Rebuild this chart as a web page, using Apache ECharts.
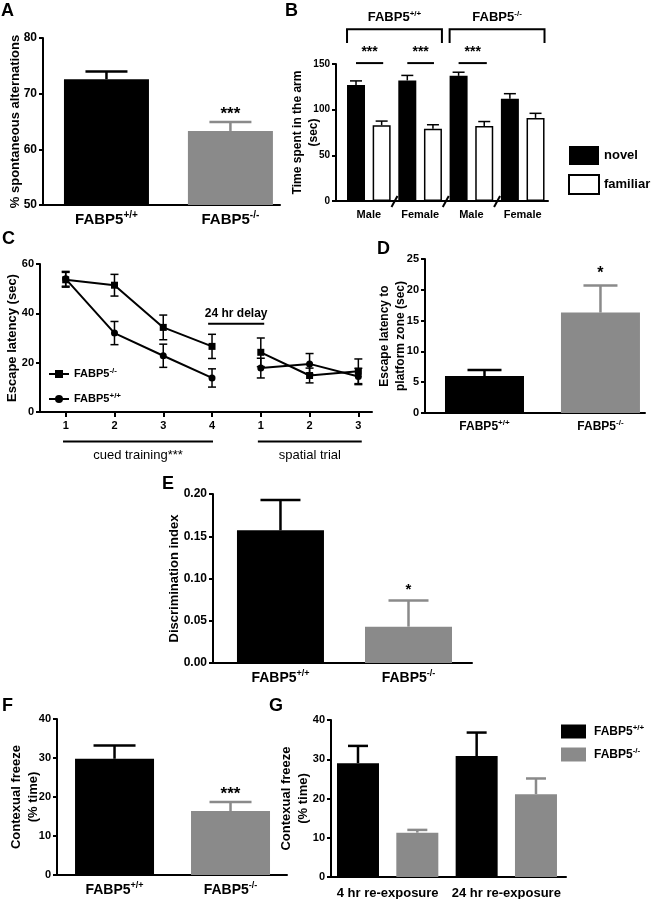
<!DOCTYPE html>
<html>
<head>
<meta charset="utf-8">
<script src="https://cdn.jsdelivr.net/npm/echarts@6.0.0/dist/echarts.min.js"></script>
<style>
html,body{margin:0;padding:0;background:#fff;}
#chart{width:652px;height:899px;}
</style>
</head>
<body>
<div id="chart"></div>
<script>
// ---------------- data ----------------
const genotypes = ['FABP5{s|+/+}', 'FABP5{s|-/-}'];
const genoX = [1, 2];
// A  spontaneous alternations
const aMean = [72.6, 63.3];
const aSem = [1.4, 1.6];
const aSig = ['', '***'];
// B  novel / familiar arm
const bGroups = ['Male', 'Female', 'Male', 'Female'];
const bNovelX = [1, 2, 3, 4];
const bFamiliarX = [1.5, 2.5, 3.5, 4.5];
const bLabelX = [1.25, 2.25, 3.25, 4.25];
const bNovel = [127, 132, 137, 112];
const bNovelSem = [4.5, 5.5, 4, 5.5];
const bFamiliar = [83, 79, 82, 91];
const bFamiliarSem = [4.5, 4.5, 5, 5];
// C  escape latency over trials
const cX = [1, 2, 3, 4, 5, 6, 7];
const cTickLabels = ['1', '2', '3', '4', '1', '2', '3'];
const cKO = [53.6, 51.4, 34.3, 26.6, 24.2, 14.8, 16.5];
const cKOSem = [3.0, 4.4, 5.0, 4.9, 5.8, 3.0, 5.0];
const cWT = [54.0, 32.0, 22.8, 13.8, 17.8, 19.5, 14.4];
const cWTSem = [3.0, 4.7, 4.7, 3.7, 4.0, 4.2, 3.3];
// D  escape latency to platform zone
const dMean = [6.0, 16.3];
const dSem = [1.0, 4.4];
const dSig = ['', '*'];
// E  discrimination index
const eMean = [0.157, 0.043];
const eSem = [0.036, 0.031];
const eSig = ['', '*'];
// F  contextual freeze
const fMean = [29.8, 16.4];
const fSem = [3.4, 2.3];
const fSig = ['', '***'];
// G  contextual freeze by re-exposure
const gPhases = ['4 hr re-exposure', '24 hr re-exposure'];
const gWTX = [1, 3];
const gKOX = [2, 4];
const gPhaseX = [1.5, 3.5];
const gWT = [29.0, 30.8];
const gWTSem = [4.4, 6.0];
const gKO = [11.3, 21.1];
const gKOSem = [0.7, 4.0];

// ---------------- styling helpers ----------------
const FONT = "'Liberation Sans', Arial, Helvetica, sans-serif";
const BLACK = '#000000';
const GRAY = '#8a8a8a';
const genoColors = [BLACK, GRAY];

function sup(size) {
  return { s: { fontSize: size, fontWeight: 'bold', fontFamily: FONT, color: '#000', verticalAlign: 'top', lineHeight: size } };
}
function catLabel(vals, names, fs, supFs, margin) {
  return {
    customValues: vals,
    formatter: function (v) {
      const i = vals.findIndex(function (x) { return Math.abs(x - v) < 1e-6; });
      return i >= 0 ? names[i] : '';
    },
    color: '#000', fontSize: fs, fontWeight: 'bold', fontFamily: FONT,
    lineHeight: fs + 4, margin: margin, rich: sup(supFs)
  };
}
function xAx(gi, min, max, label, tick) {
  return {
    type: 'value', gridIndex: gi, min: min, max: max, splitLine: { show: false },
    axisLine: { show: true, onZero: false, lineStyle: { color: '#000', width: 2 } },
    axisTick: tick || { show: false },
    axisLabel: label
  };
}
function yAx(gi, min, max, interval, fs, name, nameGap, nameFs, fmt) {
  return {
    type: 'value', gridIndex: gi, min: min, max: max, interval: interval,
    splitLine: { show: false },
    axisLine: { show: true, onZero: false, lineStyle: { color: '#000', width: 2 } },
    axisTick: { show: true, length: 4, lineStyle: { color: '#000', width: 2 } },
    axisLabel: { color: '#000', fontSize: fs, fontWeight: 'bold', fontFamily: FONT, margin: 6, formatter: fmt },
    name: name, nameLocation: 'middle', nameGap: nameGap, nameMoveOverlap: false,
    nameTextStyle: { color: '#000', fontSize: nameFs, fontWeight: 'bold', fontFamily: FONT, lineHeight: nameFs + 4 }
  };
}
function errSeries(gi, xs, means, sems, colors, opt) {
  return {
    type: 'custom', xAxisIndex: gi, yAxisIndex: gi, silent: true, clip: false, z: 3,
    data: xs.map(function (x, i) { return [x, means[i], sems[i]]; }),
    renderItem: function (params, api) {
      const i = params.dataIndex;
      const x = api.value(0), m = api.value(1), e = api.value(2);
      const top = api.coord([x, m + e]);
      const bot = api.coord([x, opt.both ? m - e : m]);
      const col = colors[i];
      const st = { stroke: col, lineWidth: opt.lw };
      const ch = [
        { type: 'line', shape: { x1: top[0], y1: top[1], x2: bot[0], y2: bot[1] }, style: st },
        { type: 'line', shape: { x1: top[0] - opt.cap, y1: top[1], x2: top[0] + opt.cap, y2: top[1] }, style: st }
      ];
      if (opt.both) ch.push({ type: 'line', shape: { x1: bot[0] - opt.cap, y1: bot[1], x2: bot[0] + opt.cap, y2: bot[1] }, style: st });
      const lab = opt.sig ? opt.sig[i] : '';
      if (lab) ch.push({ type: 'text', style: { text: lab, x: top[0], y: top[1] - opt.sigOff, align: 'center', verticalAlign: 'bottom', fontSize: opt.sigFs, fontWeight: 'bold', fontFamily: FONT, fill: '#000' } });
      return { type: 'group', children: ch };
    }
  };
}
function barSeries(gi, xs, means, colors, width, extra) {
  return Object.assign({
    type: 'bar', xAxisIndex: gi, yAxisIndex: gi, barWidth: width, barGap: '-100%', silent: true, z: 2,
    data: xs.map(function (x, i) { return { value: [x, means[i]], itemStyle: { color: colors[i] } }; })
  }, extra || {});
}
const fmt0 = function (v) { return String(Math.round(v)); };
const fmt2 = function (v) { return v.toFixed(2); };

const chart = echarts.init(document.getElementById('chart'), null, { renderer: 'canvas' });

const option = {
  backgroundColor: '#ffffff',
  animation: false,
  textStyle: { fontFamily: FONT },
  grid: [
    { left: 43, top: 38, width: 237, height: 167, outerBoundsMode: 'none' },     // A
    { left: 336, top: 64, width: 212, height: 137, outerBoundsMode: 'none' },    // B
    { left: 40, top: 264, width: 332, height: 148, outerBoundsMode: 'none' },    // C
    { left: 425, top: 259, width: 220, height: 154, outerBoundsMode: 'none' },   // D
    { left: 213, top: 494, width: 259, height: 169, outerBoundsMode: 'none' },   // E
    { left: 57, top: 719, width: 230, height: 156, outerBoundsMode: 'none' },    // F
    { left: 331, top: 720, width: 235, height: 157, outerBoundsMode: 'none' }    // G
  ],
  xAxis: [
    xAx(0, 0.488, 2.40, catLabel(genoX, genotypes, 15, 10, 5)),
    xAx(1, 0.61, 4.743, catLabel(bLabelX, bGroups, 11, 8, 6)),
    xAx(2, 0.473, 7.28, catLabel(cX, cTickLabels, 11, 8, 6),
      { show: true, customValues: cX, length: 5, lineStyle: { color: '#000', width: 2 } }),
    xAx(3, 0.487, 2.384, catLabel(genoX, genotypes, 12, 8, 6)),
    xAx(4, 0.473, 2.496, catLabel(genoX, genotypes, 14, 9, 6)),
    xAx(5, 0.504, 2.487, catLabel(genoX, genotypes, 14, 9, 6)),
    xAx(6, 0.545, 4.506, catLabel(gPhaseX, gPhases, 13, 9, 8))
  ],
  yAxis: [
    yAx(0, 50, 80, 10, 12, '% spontaneous alternations', 19, 13, fmt0),
    yAx(1, 0, 150, 50, 10, 'Time spent in the arm\n(sec)', 14, 12, fmt0),
    yAx(2, 0, 60, 20, 11, 'Escape latency (sec)', 19, 13, fmt0),
    yAx(3, 0, 25, 5, 11, 'Escape latency to\nplatform zone (sec)', 16, 12, fmt0),
    yAx(4, 0, 0.2, 0.05, 12, 'Discrimination index', 30, 13, fmt2),
    yAx(5, 0, 40, 10, 11, 'Contexual freeze\n(% time)', 15, 13, fmt0),
    yAx(6, 0, 40, 10, 11, 'Contexual freeze\n(% time)', 19, 13, fmt0)
  ],
  legend: [
    {
      left: 568, top: 146, orient: 'vertical', itemWidth: 30, itemHeight: 19, itemGap: 9, padding: 0,
      icon: 'rect', data: ['novel', 'familiar'], selectedMode: false,
      textStyle: { color: '#000', fontSize: 13, fontWeight: 'bold', fontFamily: FONT }
    },
    {
      left: 48, top: 367, orient: 'vertical', itemWidth: 20, itemHeight: 10, itemGap: 11, padding: 0,
      data: ['cKO', 'cWT'], selectedMode: false,
      formatter: function (n) { return n === 'cKO' ? 'FABP5{s|-/-}' : 'FABP5{s|+/+}'; },
      textStyle: { color: '#000', fontSize: 11, fontWeight: 'bold', fontFamily: FONT, lineHeight: 14, rich: sup(8) }
    },
    {
      left: 561, top: 724, orient: 'vertical', itemWidth: 25, itemHeight: 14, itemGap: 8, padding: 0,
      icon: 'rect', data: ['gWT', 'gKO'], selectedMode: false,
      formatter: function (n) { return n === 'gWT' ? 'FABP5{s|+/+}' : 'FABP5{s|-/-}'; },
      textStyle: { color: '#000', fontSize: 12, fontWeight: 'bold', fontFamily: FONT, lineHeight: 15, padding: [0, 0, 0, 3], rich: sup(8) }
    }
  ],
  series: [
    // A
    barSeries(0, genoX, aMean, genoColors, 85),
    errSeries(0, genoX, aMean, aSem, genoColors, { lw: 2.5, cap: 21, sig: aSig, sigOff: -1, sigFs: 17 }),
    // B
    {
      name: 'novel', type: 'bar', xAxisIndex: 1, yAxisIndex: 1, barWidth: 18, barGap: '-100%', silent: true,
      itemStyle: { color: BLACK },
      data: bNovelX.map(function (x, i) { return [x, bNovel[i]]; })
    },
    {
      name: 'familiar', type: 'bar', xAxisIndex: 1, yAxisIndex: 1, barWidth: 18, barGap: '-100%', silent: true,
      itemStyle: { color: '#ffffff', borderColor: BLACK, borderWidth: 1.5 },
      data: bFamiliarX.map(function (x, i) { return [x, bFamiliar[i]]; })
    },
    errSeries(1, bNovelX, bNovel, bNovelSem, [BLACK, BLACK, BLACK, BLACK], { lw: 1.5, cap: 6 }),
    errSeries(1, bFamiliarX, bFamiliar, bFamiliarSem, [BLACK, BLACK, BLACK, BLACK], { lw: 1.5, cap: 6 }),
    // C
    {
      name: 'cKO', type: 'line', xAxisIndex: 2, yAxisIndex: 2, symbol: 'rect', symbolSize: 7, silent: true,
      lineStyle: { color: BLACK, width: 2 }, itemStyle: { color: BLACK },
      data: cX.slice(0, 4).map(function (x, i) { return [x, cKO[i]]; })
    },
    {
      name: 'cKO', type: 'line', xAxisIndex: 2, yAxisIndex: 2, symbol: 'rect', symbolSize: 7, silent: true,
      lineStyle: { color: BLACK, width: 2 }, itemStyle: { color: BLACK },
      data: cX.slice(4).map(function (x, i) { return [x, cKO[i + 4]]; })
    },
    {
      name: 'cWT', type: 'line', xAxisIndex: 2, yAxisIndex: 2, symbol: 'circle', symbolSize: 7, silent: true,
      lineStyle: { color: BLACK, width: 2 }, itemStyle: { color: BLACK },
      data: cX.slice(0, 4).map(function (x, i) { return [x, cWT[i]]; })
    },
    {
      name: 'cWT', type: 'line', xAxisIndex: 2, yAxisIndex: 2, symbol: 'circle', symbolSize: 7, silent: true,
      lineStyle: { color: BLACK, width: 2 }, itemStyle: { color: BLACK },
      data: cX.slice(4).map(function (x, i) { return [x, cWT[i + 4]]; })
    },
    errSeries(2, cX, cKO, cKOSem, cX.map(function () { return BLACK; }), { lw: 1.5, cap: 4, both: true }),
    errSeries(2, cX, cWT, cWTSem, cX.map(function () { return BLACK; }), { lw: 1.5, cap: 4, both: true }),
    // D
    barSeries(3, genoX, dMean, genoColors, 79),
    errSeries(3, genoX, dMean, dSem, genoColors, { lw: 2.5, cap: 17, sig: dSig, sigOff: 3.5, sigFs: 16 }),
    // E
    barSeries(4, genoX, eMean, genoColors, 87),
    errSeries(4, genoX, eMean, eSem, genoColors, { lw: 2.5, cap: 20, sig: eSig, sigOff: 3, sigFs: 15 }),
    // F
    barSeries(5, genoX, fMean, genoColors, 79),
    errSeries(5, genoX, fMean, fSem, genoColors, { lw: 2.5, cap: 21, sig: fSig, sigOff: -1, sigFs: 17 }),
    // G
    {
      name: 'gWT', type: 'bar', xAxisIndex: 6, yAxisIndex: 6, barWidth: 42, barGap: '-100%', silent: true,
      itemStyle: { color: BLACK },
      data: gWTX.map(function (x, i) { return [x, gWT[i]]; })
    },
    {
      name: 'gKO', type: 'bar', xAxisIndex: 6, yAxisIndex: 6, barWidth: 42, barGap: '-100%', silent: true,
      itemStyle: { color: GRAY },
      data: gKOX.map(function (x, i) { return [x, gKO[i]]; })
    },
    errSeries(6, gWTX, gWT, gWTSem, [BLACK, BLACK], { lw: 2.5, cap: 10 }),
    errSeries(6, gKOX, gKO, gKOSem, [GRAY, GRAY], { lw: 2.5, cap: 10 })
  ]
};
chart.setOption(option);

// ---------------- annotations (placed from data coordinates) ----------------
const bBrackets = [[0.825, 2.675, 'FABP5{s|+/+}'], [2.825, 4.675, 'FABP5{s|-/-}']];
const bBracketTop = 188, bBracketFoot = 173, bBracketLabel = 201;
const bSigPairs = [[1.0, 1.53], [2.0, 2.52], [3.0, 3.55]];
const bSigLine = 151, bSigText = 163;
const bBreaks = [1.75, 2.75, 3.75];
const cDelay = [3.92, 5.07, 35.8];
const cPhaseLines = [[0.945, 4.02, 'cued training***'], [4.94, 7.07, 'spatial trial']];
const cPhaseLineY = -12.0;

function px(gi, x, y) { return chart.convertToPixel({ gridIndex: gi }, [x, y]); }
const g = [];
const lineStyle = function (w) { return { stroke: '#000', lineWidth: w }; };
// panel letters
[['A', 1, 2], ['B', 285, 2], ['C', 2, 230], ['D', 377, 240], ['E', 162, 475], ['F', 2, 697], ['G', 269, 697]].forEach(function (l) {
  g.push({ type: 'text', left: l[1], top: l[2], style: { text: l[0], fontSize: 18, fontWeight: 'bold', fontFamily: FONT, fill: '#000' } });
});
// B brackets
bBrackets.forEach(function (b) {
  const p1 = px(1, b[0], bBracketFoot), p2 = px(1, b[0], bBracketTop), p3 = px(1, b[1], bBracketTop), p4 = px(1, b[1], bBracketFoot);
  g.push({ type: 'polyline', shape: { points: [p1, p2, p3, p4] }, style: { stroke: '#000', lineWidth: 2, fill: null } });
  const pl = px(1, (b[0] + b[1]) / 2, bBracketLabel);
  g.push({ type: 'text', x: pl[0], y: pl[1], style: { text: b[2], align: 'center', verticalAlign: 'middle', fontSize: 13, fontWeight: 'bold', fontFamily: FONT, fill: '#000', lineHeight: 16, rich: sup(8) } });
});
bSigPairs.forEach(function (s) {
  const a = px(1, s[0], bSigLine), b = px(1, s[1], bSigLine);
  g.push({ type: 'line', shape: { x1: a[0], y1: a[1], x2: b[0], y2: b[1] }, style: lineStyle(2) });
  const t = px(1, (s[0] + s[1]) / 2, bSigText);
  g.push({ type: 'text', x: t[0], y: t[1], style: { text: '***', align: 'center', verticalAlign: 'middle', fontSize: 14, fontWeight: 'bold', fontFamily: FONT, fill: '#000' } });
});
bBreaks.forEach(function (x) {
  const p = px(1, x, 0);
  g.push({ type: 'line', shape: { x1: p[0] - 3, y1: p[1] + 6, x2: p[0] + 3, y2: p[1] - 5 }, style: lineStyle(2) });
});
// C annotations
(function () {
  const a = px(2, cDelay[0], cDelay[2]), b = px(2, cDelay[1], cDelay[2]);
  g.push({ type: 'line', shape: { x1: a[0], y1: a[1], x2: b[0], y2: b[1] }, style: lineStyle(2) });
  g.push({ type: 'text', x: (a[0] + b[0]) / 2, y: a[1] - 4, style: { text: '24 hr delay', align: 'center', verticalAlign: 'bottom', fontSize: 12, fontWeight: 'bold', fontFamily: FONT, fill: '#000' } });
  cPhaseLines.forEach(function (l) {
    const p = px(2, l[0], cPhaseLineY), q = px(2, l[1], cPhaseLineY);
    g.push({ type: 'line', shape: { x1: p[0], y1: p[1], x2: q[0], y2: q[1] }, style: lineStyle(2) });
    g.push({ type: 'text', x: (p[0] + q[0]) / 2, y: p[1] + 7, style: { text: l[2], align: 'center', verticalAlign: 'top', fontSize: 13, fontFamily: FONT, fill: '#000' } });
  });
})();
chart.setOption({ graphic: g });
</script>
</body>
</html>
